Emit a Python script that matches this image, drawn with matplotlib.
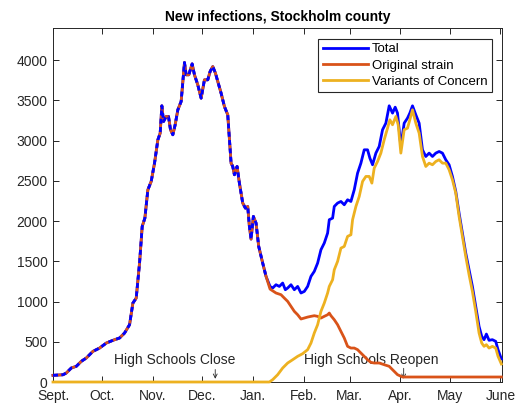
import matplotlib
matplotlib.use("Agg")
import matplotlib.pyplot as plt
import numpy as np

plt.rcParams["font.family"] = ["Liberation Sans", "DejaVu Sans"]

# ---- data; x = zoomed-pixel positions converted to day since Sept 1
month_labels = ["Sept.", "Oct.", "Nov.", "Dec.", "Jan.", "Feb.", "Mar.", "Apr.", "May", "June"]
month_days = [0, 30, 61, 91, 122, 153, 181, 212, 242, 273]

total_zx = [160, 190, 200, 215, 230, 245, 260, 280, 300, 320, 340, 360, 375, 390, 400, 410, 420, 428,
            436, 445, 455, 465, 475, 482, 487, 492, 500, 507, 513, 520, 527, 535, 545, 555, 560, 568,
            578, 585, 595, 605, 615, 625, 632, 640, 648, 655, 665, 675, 685, 695, 700, 705, 713, 720,
            730, 738, 745, 750, 755, 762, 770, 778, 790, 800, 812, 820, 830, 840, 850, 858, 865, 875,
            885, 895, 905, 915, 925, 935, 945, 955, 965, 975, 985, 990, 1000, 1005, 1015, 1025, 1035,
            1045, 1055, 1065, 1075, 1085, 1095, 1105, 1112, 1120, 1130, 1140, 1150, 1160, 1170, 1180,
            1188, 1195, 1205, 1215, 1225, 1232, 1240, 1250, 1260, 1270, 1280, 1290, 1300, 1310, 1320,
            1330, 1340, 1350, 1360, 1370, 1380, 1390, 1400, 1410, 1420, 1430, 1440, 1448, 1455, 1462,
            1470, 1480, 1490, 1497, 1507]
total_vals = [83, 90, 112, 174, 195, 257, 298, 381, 422, 484, 518, 547, 609, 712, 981, 1043, 1478, 1934,
              2037, 2389, 2493, 2720, 3010, 3093, 3433, 3238, 3300, 3300, 3135, 3073, 3197, 3383, 3487,
              3971, 3818, 3818, 3954, 3818, 3693, 3528, 3756, 3756, 3859, 3921, 3839, 3735, 3590, 3424,
              3321, 2720, 2679, 2576, 2679, 2472, 2224, 2161, 2182, 1934, 1776, 2058, 1975, 1685, 1478,
              1313, 1188, 1168, 1209, 1188, 1230, 1147, 1168, 1209, 1147, 1188, 1106, 1126, 1188, 1313,
              1375, 1478, 1644, 1727, 1851, 2017, 2037, 2182, 2224, 2244, 2203, 2265, 2244, 2389, 2596,
              2720, 2886, 2886, 2782, 2700, 2845, 2928, 3135, 3217, 3433, 3342, 3416, 3342, 2928, 3217,
              3280, 3342, 3433, 3321, 3217, 2886, 2803, 2845, 2803, 2845, 2865, 2845, 2762, 2700, 2555,
              2369, 2099, 1851, 1602, 1395, 1188, 940, 691, 567, 526, 596, 518, 526, 505, 402, 286]

orig_late_zx = [812, 830, 845, 855, 865, 875, 885, 895, 905, 915, 925, 935, 945, 955, 965, 975, 985, 990,
                995, 1005, 1015, 1025, 1035, 1045, 1055, 1065, 1075, 1085, 1095, 1105, 1115, 1125, 1140,
                1155, 1170, 1180, 1195, 1210, 1507]
orig_late_vals = [1155, 1106, 1085, 1043, 1002, 940, 878, 836, 783, 795, 807, 816, 824, 816, 795, 816, 836,
                  857, 824, 774, 712, 629, 547, 443, 422, 422, 402, 360, 319, 277, 244, 236, 236, 215, 195,
                  153, 91, 62, 62]

voc_zx = [160, 810, 820, 835, 850, 865, 880, 895, 910, 925, 935, 945, 955, 965, 975, 985, 990, 1000, 1005,
          1015, 1025, 1035, 1045, 1055, 1060, 1070, 1080, 1090, 1100, 1110, 1118, 1125, 1135, 1145, 1155,
          1165, 1172, 1180, 1190, 1197, 1205, 1215, 1225, 1232, 1240, 1250, 1260, 1270, 1280, 1290, 1300,
          1310, 1320, 1330, 1340, 1350, 1360, 1370, 1380, 1390, 1400, 1410, 1420, 1430, 1440, 1448, 1455,
          1462, 1470, 1480, 1490, 1497, 1507]
voc_vals = [0, 0, 29, 91, 174, 236, 277, 319, 352, 402, 484, 609, 712, 878, 981, 1106, 1188, 1271, 1395,
            1499, 1664, 1685, 1810, 1830, 2017, 2182, 2306, 2493, 2555, 2555, 2472, 2658, 2741, 2845, 3010,
            3155, 3259, 3197, 3300, 3197, 2845, 3135, 3155, 3259, 3383, 3217, 3093, 2803, 2679, 2720, 2700,
            2741, 2762, 2720, 2720, 2638, 2514, 2348, 2058, 1810, 1561, 1333, 1126, 878, 609, 484, 443, 464,
            422, 443, 422, 319, 224]


def to_day(zx):
    return (np.asarray(zx, dtype=float) - 160.0) / 4.923


total_x = to_day(total_zx)
total_y = np.array(total_vals, dtype=float)
split = 132.0
early = total_x < split
orig_x = np.concatenate([total_x[early], to_day(orig_late_zx)])
orig_y = np.concatenate([total_y[early], np.array(orig_late_vals, dtype=float)])
voc_x = to_day(voc_zx)
voc_y = np.array(voc_vals, dtype=float)

# ---- figure
fig = plt.figure(figsize=(5.16, 4.04), dpi=100)
ax = fig.add_axes([53 / 516, 1 - 382 / 404, (502 - 53) / 516, (382 - 28) / 404])

blue = "#0000ff"
red = "#d95319"
yellow = "#edb120"
lw = 2.0

ax.plot(total_x, total_y, color=blue, lw=lw, label="Total", zorder=3, clip_on=False)
ax.plot(orig_x, orig_y, color=red, lw=lw, label="Original strain", zorder=4, clip_on=False)
ax.plot(voc_x, voc_y, color=yellow, lw=lw, label="Variants of Concern", zorder=5, clip_on=False)
# blue drawn dashed over the overlapping early segment (as in the reference rendering)
ax.plot(total_x[early], total_y[early], color=blue, lw=lw, dashes=(1.8, 1.2), zorder=4.5, clip_on=False)

ax.set_xlim(0, 274)
ax.set_ylim(0, 4400)
ax.set_xticks(month_days)
ax.set_xticklabels(month_labels)
ax.set_yticks(np.arange(0, 4001, 500))
ax.tick_params(direction="in", top=True, right=True, length=4, width=0.7,
               labelsize=10, colors="#262626")
ax.tick_params(axis="x", pad=5)
ax.tick_params(axis="y", pad=4)
for s in ax.spines.values():
    s.set_color("#262626")
    s.set_linewidth(0.7)

ax.set_title("New infections, Stockholm county", fontsize=10, fontweight="bold", pad=5)

arrow_props = dict(arrowstyle="->", color="#262626", lw=0.6, mutation_scale=7, shrinkA=0, shrinkB=0)
ax.text(74, 273, "High Schools Close", fontsize=10, color="#262626", ha="center", va="center")
ax.annotate("", xy=(99, 40), xytext=(99, 155), arrowprops=arrow_props)
ax.text(194, 273, "High Schools Reopen", fontsize=10, color="#262626", ha="center", va="center")
ax.annotate("", xy=(214, 40), xytext=(214, 170), arrowprops=arrow_props)

leg = ax.legend(loc="upper right", bbox_to_anchor=(0.978, 0.97), fontsize=9.5, frameon=True,
                fancybox=False, edgecolor="#262626", handlelength=3.4, handletextpad=0.3,
                borderpad=0.35, labelspacing=0.3, borderaxespad=0)
leg.get_frame().set_linewidth(0.8)
leg.get_frame().set_alpha(1)

fig.savefig("out.png", dpi=100)
